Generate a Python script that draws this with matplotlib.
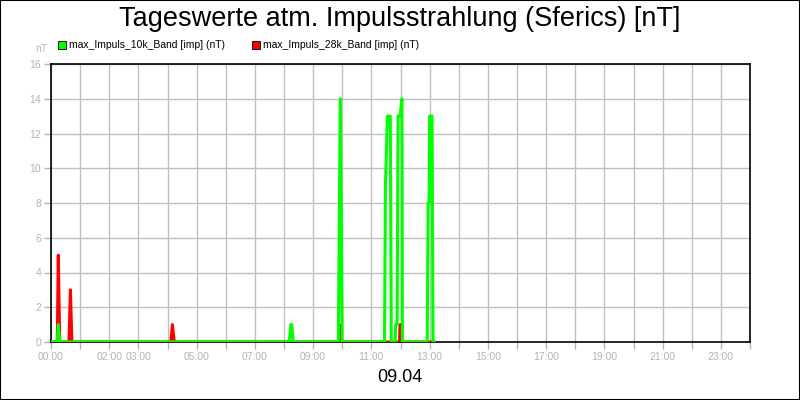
import matplotlib
matplotlib.use("Agg")
import matplotlib.pyplot as plt
from matplotlib.patches import Rectangle

# Messwerte (Minutenauflösung, nur Punkte um die Spitzen herum)
green_times = ["00:00", "00:13", "00:15", "00:18",
               "08:11", "08:14", "08:16", "08:19",
               "09:52", "09:56", "10:00",
               "11:27", "11:29", "11:33", "11:39", "11:41",
               "11:49", "11:50", "11:53", "11:55", "11:59", "12:03", "12:04",
               "12:55", "12:57", "12:59", "13:00", "13:05", "13:07", "13:10"]
green_values = [0, 0, 1, 0,
                0, 1, 1, 0,
                0, 14, 0,
                0, 9, 13, 13, 0,
                0, 1, 1, 13, 13, 14, 0,
                0, 8, 8, 13, 13, 0, 0]

red_times = ["00:00", "00:13", "00:15", "00:18", "00:37", "00:40", "00:43",
             "04:07", "04:10", "04:14", "09:53", "09:55", "09:57",
             "11:58", "11:59", "12:01", "12:02", "13:10"]
red_values = [0, 0, 5, 0, 0, 3, 0,
              0, 1, 0, 0, 1, 0,
              0, 1, 1, 0, 0]

label_hours = [0, 2, 3, 5, 7, 9, 11, 13, 15, 17, 19, 21, 23]
y_ticks = [0, 2, 4, 6, 8, 10, 12, 14, 16]


def to_hours(t):
    h, m = t.split(":")
    return int(h) + int(m) / 60.0


grey = "#b4b4b4"
plt.rcParams["font.family"] = ["Liberation Sans", "DejaVu Sans"]

fig = plt.figure(figsize=(8, 4), dpi=100)
fig.patch.set_facecolor("white")
fig.patches.append(Rectangle((0, 0), 1, 1, transform=fig.transFigure,
                             fill=False, edgecolor="black", linewidth=1.5))

ax = fig.add_axes([51 / 800, 58 / 400, 699 / 800, 278 / 400])

ax.plot([to_hours(t) for t in red_times], red_values, color="#ff0000", lw=2.2,
        label="max_Impuls_28k_Band [imp] (nT)", zorder=3)
ax.plot([to_hours(t) for t in green_times], green_values, color="#00ff00", lw=2.2,
        label="max_Impuls_10k_Band [imp] (nT)", zorder=4)

ax.set_xlim(0, 24)
ax.set_ylim(0, 16)

ax.set_xticks(range(0, 25))
ax.set_xticklabels([f"{h:02d}:00" if h in label_hours else "" for h in range(0, 25)])
ax.set_yticks(y_ticks)

ax.grid(True, color="#c0c0c0", lw=1)
ax.set_axisbelow(True)
ax.tick_params(colors=grey, labelsize=7.5, length=5, width=1, pad=2)
for s in ax.spines.values():
    s.set_color("black")
    s.set_linewidth(1.2)

# Legende manuell oben links
fig.patches.append(Rectangle((58 / 800, 1 - 49 / 400), 8 / 800, 8 / 400,
                             transform=fig.transFigure, facecolor="#00ff00",
                             edgecolor="black", linewidth=0.6))
fig.text(69 / 800, 1 - 45 / 400, "max_Impuls_10k_Band [imp] (nT)", fontsize=7.5,
         va="center", ha="left")
fig.patches.append(Rectangle((252 / 800, 1 - 49 / 400), 8 / 800, 8 / 400,
                             transform=fig.transFigure, facecolor="#ff0000",
                             edgecolor="black", linewidth=0.6))
fig.text(263 / 800, 1 - 45 / 400, "max_Impuls_28k_Band [imp] (nT)", fontsize=7.5,
         va="center", ha="left")

fig.text(41 / 800, 1 - 49 / 400, "nT", color=grey, fontsize=7.5,
         ha="center", va="center")

fig.text(0.5, 1 - 19 / 400, "Tageswerte atm. Impulsstrahlung (Sferics) [nT]",
         fontsize=19.5, ha="center", va="center")
fig.text(0.5, 1 - 378 / 400, "09.04", fontsize=13, ha="center", va="center")

fig.savefig("out.png", dpi=100)
